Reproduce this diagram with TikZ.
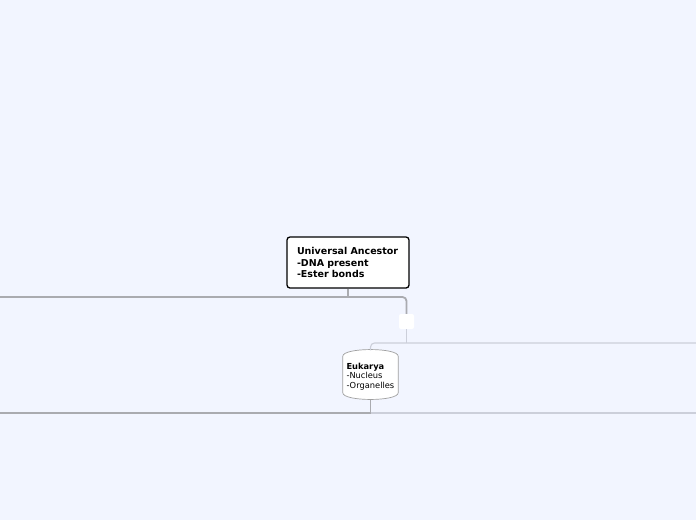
\documentclass[tikz,border=0pt]{standalone}
\usepackage{fontspec}
\setmainfont{DejaVu Sans}
\usetikzlibrary{positioning,backgrounds}
\definecolor{bgcol}{RGB}{242,245,255}
\definecolor{linedark}{RGB}{170,171,176}
\definecolor{linelight}{RGB}{204,207,218}
\begin{document}
\begin{tikzpicture}[x=1pt,y=-1pt,
    rootbox/.style={rectangle,draw=black,line width=1.3pt,rounded corners=3pt,fill=white,minimum width=122pt,minimum height=51pt,text width=102pt,align=left,font=\fontsize{9.5}{11.5}\selectfont\bfseries},
    subbox/.style={rectangle,minimum width=55pt,minimum height=50pt,text width=48pt,align=left,font=\fontsize{8.3}{9.6}\selectfont},
    togglebox/.style={rectangle,rounded corners=2pt,fill=white,minimum size=15pt,inner sep=0pt},
    mainline/.style={draw=linedark,line width=1.8pt,rounded corners=4pt},
    subline/.style={draw=linelight,line width=1.1pt,rounded corners=4pt}
]
    \useasboundingbox (0,0) rectangle (696,520);

    % Root
    \node[rootbox] (root) at (348,262.5) {Universal Ancestor\\-DNA present\\-Ester bonds};

    % Collapse button
    \node[togglebox] (toggle) at (406.5,321.5) {};

    % Eukarya
    \node[subbox] (euk) at (370.5,376.5) {\textbf{Eukarya}\\-Nucleus\\-Organelles};
    \begin{scope}[on background layer]
    \fill[bgcol] (0,0) rectangle (696,520);
    \filldraw[fill=white,draw=gray!75,line width=0.7pt]
        ([yshift=-5pt]euk.north west) .. controls ([yshift=4pt]euk.north west) and ([yshift=4pt]euk.north east) .. ([yshift=-5pt]euk.north east)
        -- ([yshift=9pt]euk.south east) .. controls ([yshift=0pt]euk.south east) and ([yshift=0pt]euk.south west) .. ([yshift=9pt]euk.south west) -- cycle;
    \end{scope}

    % Free ends
    \coordinate (leftTop) at (0,297);
    \coordinate (leftBot) at (0,413);
    \coordinate (rightTop) at (696,343);
    \coordinate (rightBot) at (696,413);

    % Connectors
    \draw[mainline] (root.south) -- (root.south |- leftTop);
    \draw[mainline] (leftTop) -- (toggle.north |- leftTop) -- (toggle.north);
    \draw[subline] (toggle.south) -- (toggle.south |- rightTop);
    \draw[subline] (rightTop) -- (euk.north |- rightTop) -- ([yshift=1pt]euk.north);
    \draw[draw=linedark,line width=1.2pt] ([yshift=2pt]euk.south) -- (euk.south |- leftBot) -- (leftBot);
    \draw[subline] (euk.south |- rightBot) -- (rightBot);
\end{tikzpicture}
\end{document}
